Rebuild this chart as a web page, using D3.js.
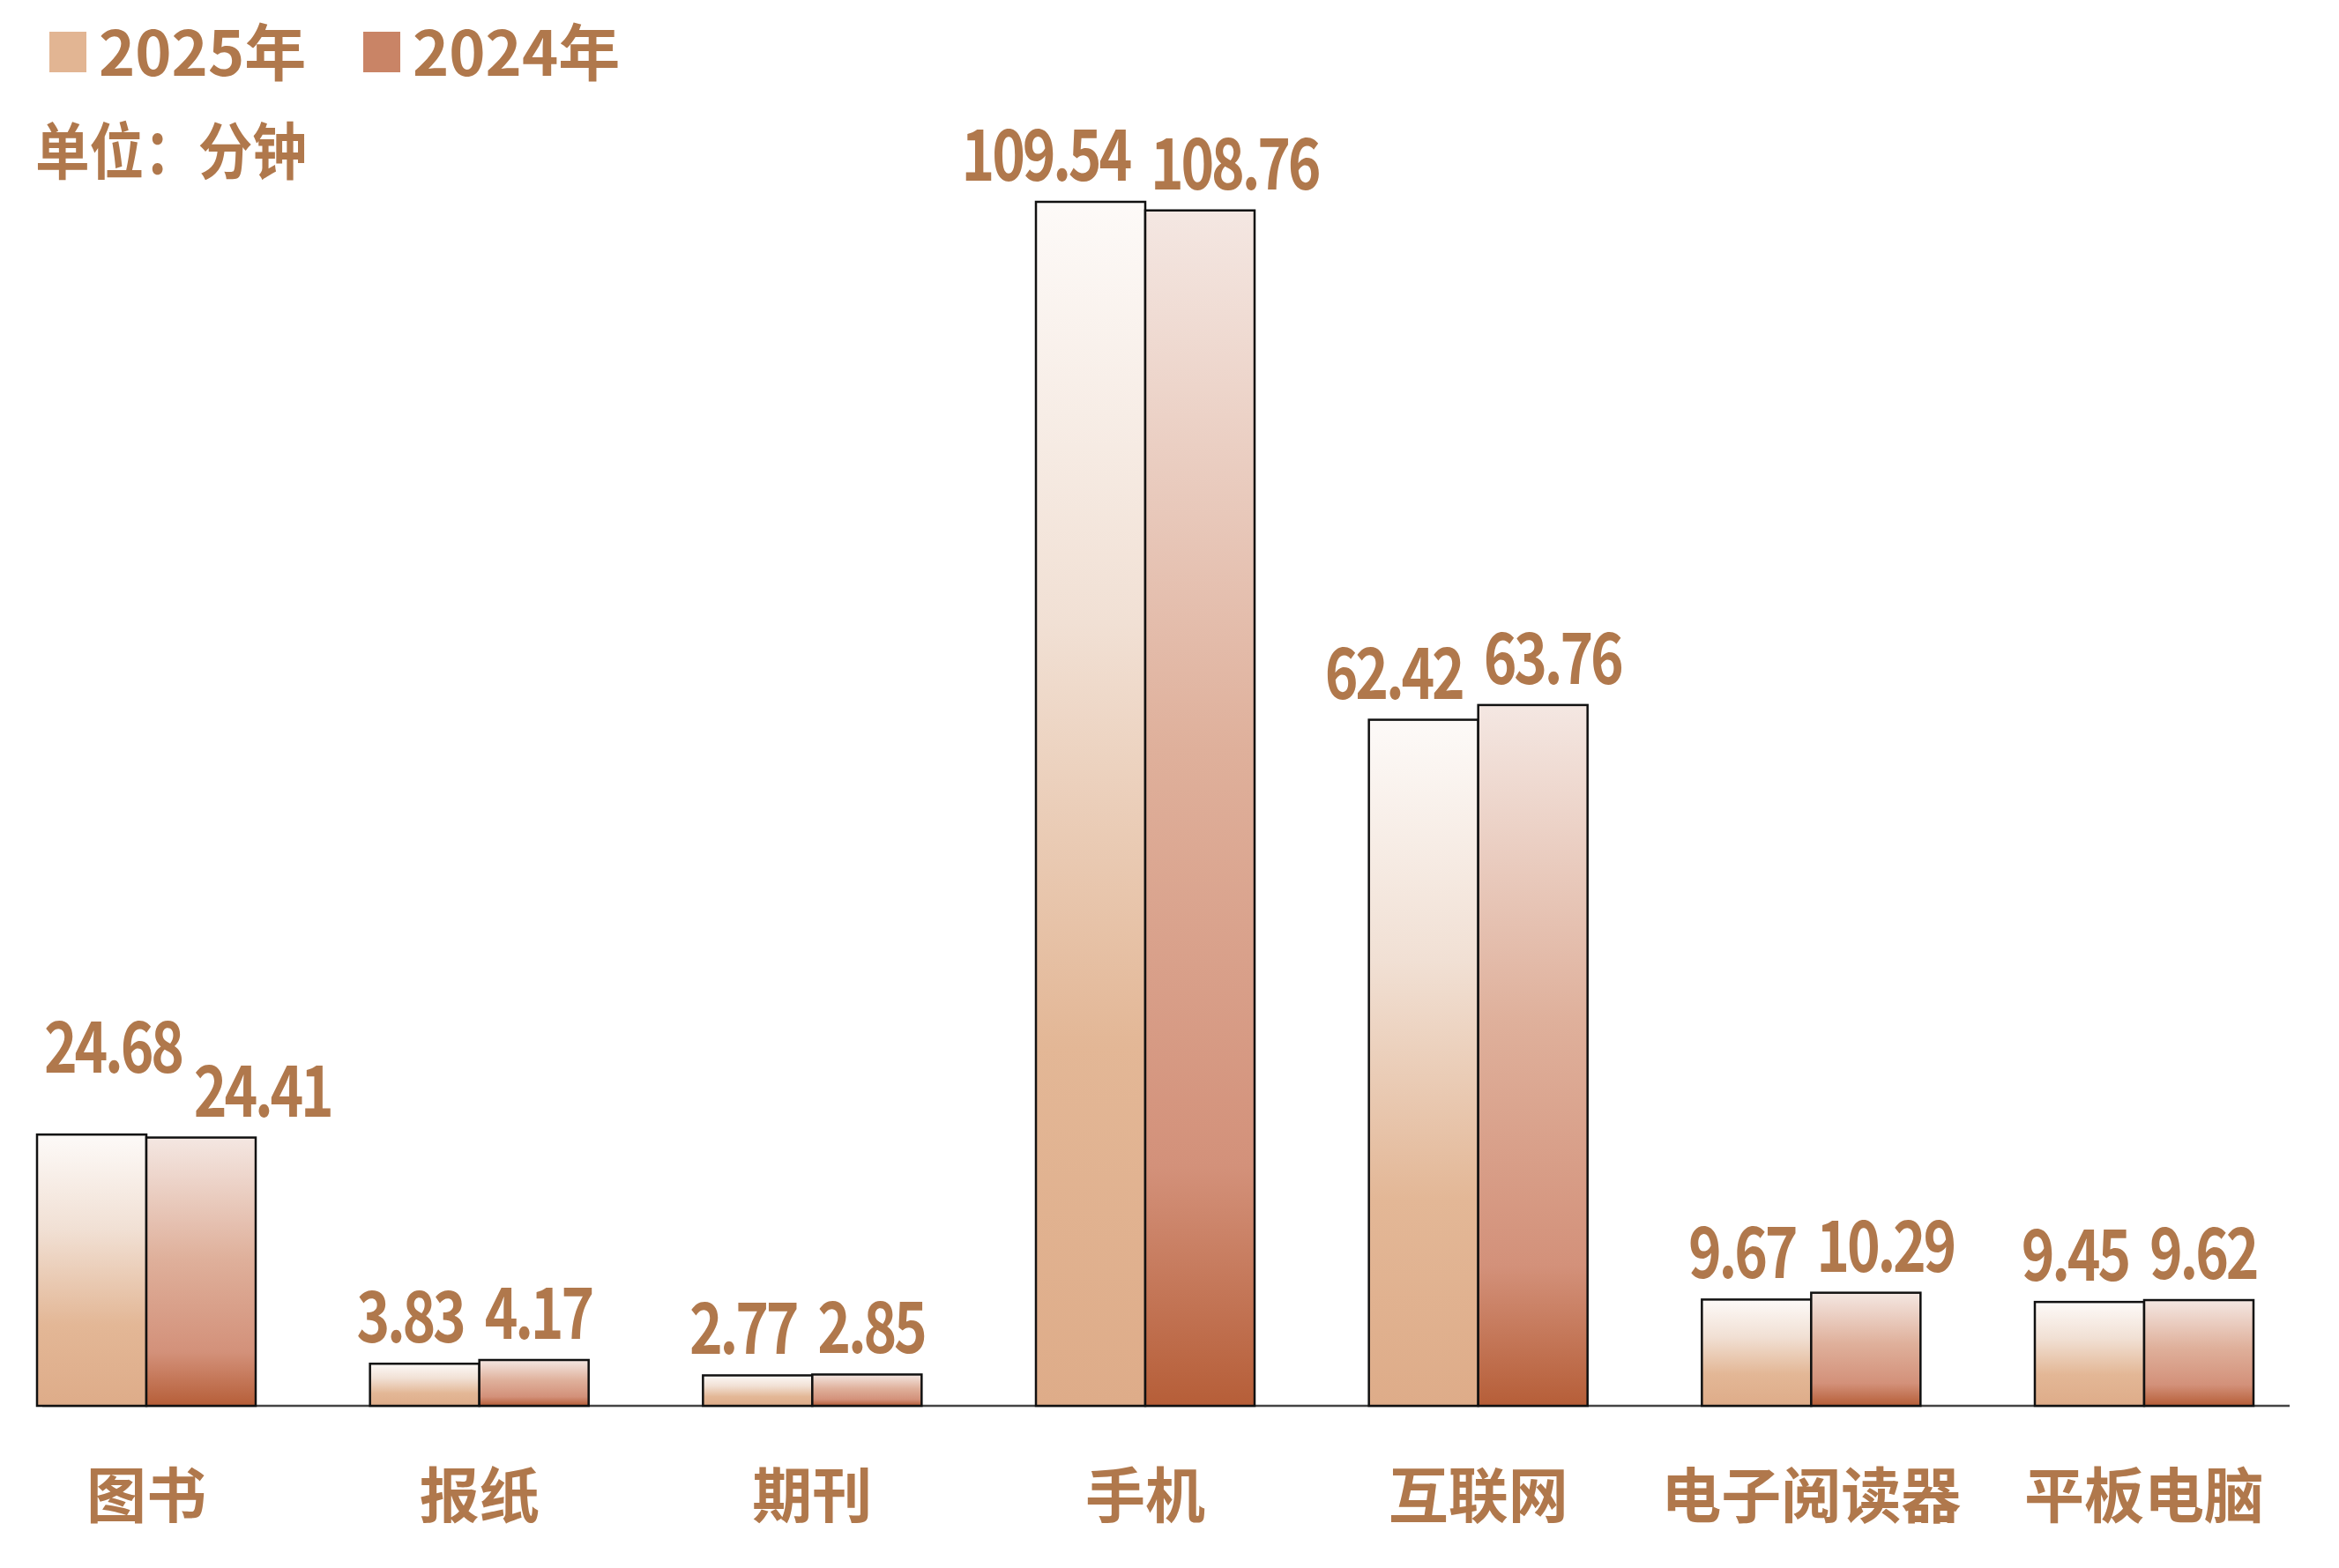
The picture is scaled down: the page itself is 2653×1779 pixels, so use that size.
<!DOCTYPE html>
<html>
<head>
<meta charset="utf-8">
<script src="https://cdn.jsdelivr.net/npm/d3@7/dist/d3.min.js"></script>
<style>
  body { margin: 0; background: #fff; }
  text { font-family: "Noto Sans CJK SC", "Noto Sans", sans-serif; font-weight: 700; fill: #b0784c; }
</style>
</head>
<body>
<div id="chart"></div>
<script>
// categories and the two years
const categories = ["图书", "报纸", "期刊", "手机", "互联网", "电子阅读器", "平板电脑"];
const seriesNames = ["2025年", "2024年"];
const values2025 = [24.68, 3.83, 2.77, 109.54, 62.42, 9.67, 9.45];
const values2024 = [24.41, 4.17, 2.85, 108.76, 63.76, 10.29, 9.62];
const unitLabel = "单位：分钟";

const width = 2653, height = 1779;
const baseY = 1595;

const svg = d3.select("#chart")
    .append("svg")
    .attr("width", width)
    .attr("height", height);

svg.append("rect").attr("width", width).attr("height", height).attr("fill", "#fff");

// gradients for the bars
const defs = svg.append("defs");
const g25 = defs.append("linearGradient").attr("id", "grad25")
    .attr("x1", 0).attr("y1", 0).attr("x2", 0).attr("y2", 1);
[["0%", "#fdfaf8"], ["35%", "#f1e0d4"], ["70%", "#e3b796"], ["100%", "#deac89"]]
    .forEach(s => g25.append("stop").attr("offset", s[0]).attr("stop-color", s[1]));
const g24 = defs.append("linearGradient").attr("id", "grad24")
    .attr("x1", 0).attr("y1", 0).attr("x2", 0).attr("y2", 1);
[["0%", "#f4e7e2"], ["45%", "#dfb09b"], ["80%", "#d3917a"], ["100%", "#b65e38"]]
    .forEach(s => g24.append("stop").attr("offset", s[0]).attr("stop-color", s[1]));

const fills = ["url(#grad25)", "url(#grad24)"];
const legendColors = ["#e2b593", "#c98466"];

// scales
const xCenter = d3.scalePoint()
    .domain(categories)
    .range([166, 2432]);

const barW = 124;
const xInner = d3.scaleBand()
    .domain(seriesNames)
    .range([-barW, barW]);

const yScale = d3.scaleLinear()
    .domain([0, 109.54])
    .range([baseY, 229]);

// flatten data
const bars = [];
categories.forEach((c, i) => {
    bars.push({cat: c, series: seriesNames[0], value: values2025[i], k: 0});
    bars.push({cat: c, series: seriesNames[1], value: values2024[i], k: 1});
});

// axis line
svg.append("line")
    .attr("x1", 48).attr("x2", 2597)
    .attr("y1", baseY).attr("y2", baseY)
    .attr("stroke", "#444").attr("stroke-width", 2.5);

// bars
svg.selectAll("rect.bar")
    .data(bars)
    .enter()
    .append("rect")
    .attr("class", "bar")
    .attr("x", d => xCenter(d.cat) + xInner(d.series))
    .attr("y", d => yScale(d.value))
    .attr("width", xInner.bandwidth())
    .attr("height", d => baseY - yScale(d.value))
    .attr("fill", d => fills[d.k])
    .attr("stroke", "#111")
    .attr("stroke-width", 2.5);

// value labels (condensed): 2025 ends near its bar's right edge, 2024 starts at its bar's left edge
const squeeze = 0.8;
const valLabels = svg.selectAll("text.val")
    .data(bars)
    .enter()
    .append("text")
    .attr("class", "val")
    .attr("font-size", 80)
    .attr("letter-spacing", -4)
    .text(d => d.value.toFixed(2))
    .each(function(d) {
        d.w = this.getComputedTextLength() * squeeze;
        if (d.k === 0) {
            d.left = Math.max(xCenter(d.cat) + xInner(d.series) + xInner.bandwidth() - 18 - d.w, 50);
        } else {
            d.left = xCenter(d.cat) + xInner(d.series) + 6;
        }
        d.ty = yScale(d.value) - 24;
    });

// if the pair collides, lift the 2025 label and push the 2024 one to the right
for (let i = 0; i < bars.length; i += 2) {
    const a = bars[i], b = bars[i + 1];
    if (a.left + a.w > b.left - 4) {
        a.ty = Math.min(a.ty, b.ty - 50);
        b.left = a.left + a.w + 14;
    }
}
valLabels.attr("transform", d => `translate(${d.left},${d.ty}) scale(${squeeze},1)`);

// category labels
svg.selectAll("text.cat")
    .data(categories)
    .enter()
    .append("text")
    .attr("class", "cat")
    .attr("x", d => xCenter(d))
    .attr("y", 1722)
    .attr("text-anchor", "middle")
    .attr("font-size", 68)
    .text(d => d);

// legend
const legendX = [56, 412];
seriesNames.forEach((s, i) => {
    svg.append("rect")
        .attr("x", legendX[i]).attr("y", 36)
        .attr("width", 42).attr("height", 46)
        .attr("fill", legendColors[i]);
    svg.append("text")
        .attr("x", legendX[i] + 56).attr("y", 86)
        .attr("font-size", 70)
        .text(s);
});

svg.append("text")
    .attr("transform", "translate(40,198) scale(0.88,1)")
    .attr("font-size", 70)
    .text(unitLabel);
</script>
</body>
</html>
